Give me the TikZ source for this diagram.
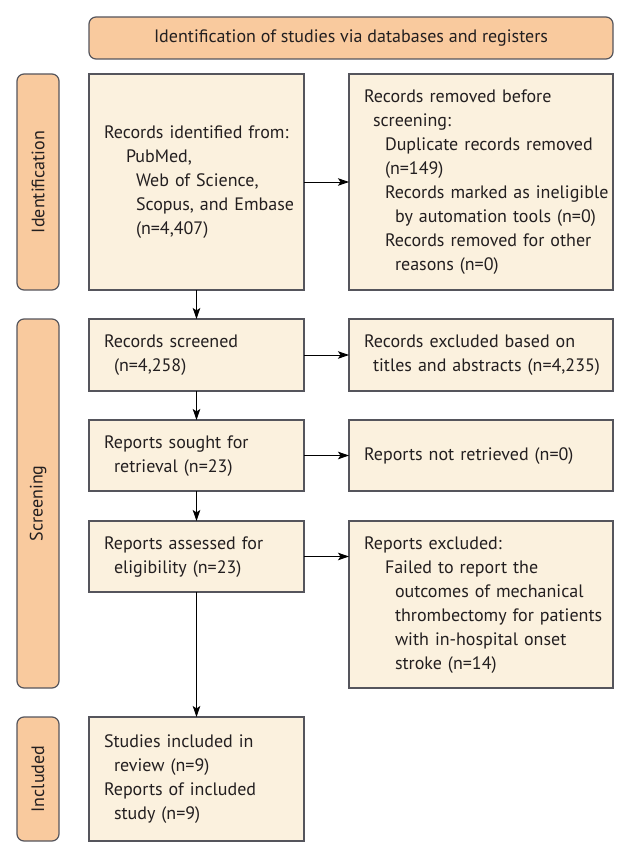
\documentclass[tikz,border=0pt]{standalone}
\usepackage{fontspec}
\setmainfont{PT Sans}
\usetikzlibrary{arrows.meta}

\definecolor{peach}{RGB}{249,202,158}
\definecolor{cream}{RGB}{251,241,222}
\definecolor{edge}{RGB}{85,85,92}
\definecolor{ink}{RGB}{35,31,32}
\newcommand{\boxlines}[1]{\begin{tabular}{@{}l@{}}#1\end{tabular}}

\begin{document}
\begin{tikzpicture}[x=1pt, y=-1pt,
  font=\fontsize{18}{24}\selectfont, text=ink,
    B/.style = {rectangle, draw=edge, fill=cream, line width=1.2pt,% boxes of the flow
                anchor=north west, inner xsep=15pt, inner ysep=0pt,
                outer sep=0pt, align=left},
    L/.style = {B, text width=185pt},% left column
    R/.style = {B, text width=234pt},% right column
    S/.style = {rectangle, rounded corners=7pt, draw=edge, fill=peach,% stage bars
                line width=1.2pt, minimum height=42pt, inner sep=0pt, rotate=90},
    A/.style = {-{Stealth[length=11pt,width=7.5pt,inset=2.5pt]}, line width=0.9pt},
                        ]
\useasboundingbox (0,0) rectangle (631,858);
% header
\node[B, fill=peach, rounded corners=7pt, align=center,
      minimum width=524pt, minimum height=42pt] (head) at (89,17)
      {Identification of studies via databases and registers};
% stage bars
\node[S, minimum width=216pt] (stage1) at (38,182) {Identification};
\node[S, minimum width=369pt] (stage2) at (38,503.5) {Screening};
\node[S, minimum width=124pt] (stage3) at (38,779) {Included};
% left column
\node[L, minimum height=216pt] (ident) at (89,74)
  {\boxlines{Records identified from:\\ \hspace*{22pt}PubMed,\\ \hspace*{32pt}Web of Science,\\
   \hspace*{32pt}Scopus, and Embase\\ \hspace*{32pt}(n=4,407)}};
\node[L, minimum height=72pt] (screened) at (89,319)
  {\boxlines{Records screened\\ \hspace*{10pt}(n=4,258)}};
\node[L, minimum height=71pt] (sought) at (89,420)
  {\boxlines{Reports sought for\\ \hspace*{10pt}retrieval (n=23)}};
\node[L, minimum height=71pt] (assessed) at (89,521)
  {\boxlines{Reports assessed for\\ \hspace*{10pt}eligibility (n=23)}};
\node[L, minimum height=124pt] (incl) at (89,717)
  {\boxlines{Studies included in\\ \hspace*{10pt}review (n=9)\\ Reports of included\\
   \hspace*{10pt}study (n=9)}};
% right column
\node[R, minimum height=216pt] (removed) at (349,74)
  {\boxlines{Records removed before\\ \hspace*{9pt}screening:\\
   \hspace*{21pt}Duplicate records removed\\ \hspace*{21pt}(n=149)\\
   \hspace*{21pt}Records marked as ineligible\\ \hspace*{31pt}by automation tools (n=0)\\
   \hspace*{21pt}Records removed for other\\ \hspace*{31pt}reasons (n=0)}};
\node[R, minimum height=72pt] (excl) at (349,319)
  {\boxlines{Records excluded based on\\ \hspace*{9pt}titles and abstracts (n=4,235)}};
\node[R, minimum height=71pt] (notret) at (349,420)
  {\boxlines{Reports not retrieved (n=0)}};
\node[R, minimum height=167pt] (rexcl) at (349,521)
  {\boxlines{Reports excluded:\\ \hspace*{21pt}Failed to report the\\
   \hspace*{31pt}outcomes of mechanical\\ \hspace*{31pt}thrombectomy for patients\\
   \hspace*{31pt}with in-hospital onset\\ \hspace*{31pt}stroke (n=14)}};
% arrows
\foreach \a/\b in {ident/screened, screened/sought, sought/assessed, assessed/incl}
    \draw[A] (\a.south) -- (\b.north);
\foreach \a/\b in {ident/removed, screened/excl, sought/notret, assessed/rexcl}
    \draw[A] (\a.east) -- (\a.east -| \b.west);
\end{tikzpicture}
\end{document}
